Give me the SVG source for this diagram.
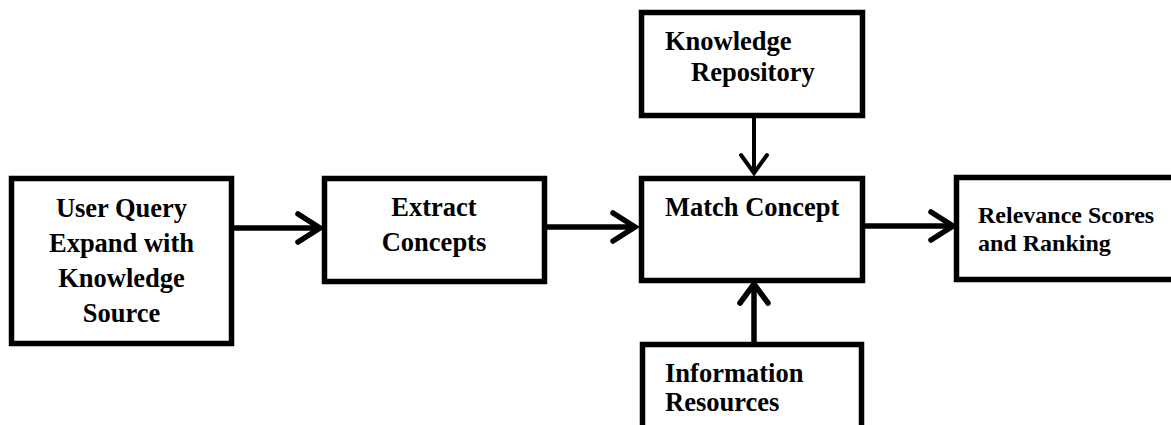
<svg xmlns="http://www.w3.org/2000/svg" width="1171" height="425" viewBox="0 0 1171 425">
<style>
.box{fill:#fff;stroke:#000;stroke-width:5.5}
.t{font-family:"Liberation Serif","Times New Roman",serif;font-weight:bold;font-size:26.5px;fill:#000}
.s{font-size:24px}
.c{text-anchor:middle}
.ln{fill:none;stroke:#000;stroke-width:5.5}
.hd{fill:none;stroke:#000;stroke-width:5.5;stroke-linecap:round;stroke-linejoin:miter}
.thin{stroke-width:4}
</style>
<rect width="1171" height="425" fill="#fff"/>
<g id="connectors">
<line class="ln" x1="234" y1="228" x2="318" y2="228"/>
<polyline class="hd" points="298,214 320,228 298,242"/>
<line class="ln" x1="547" y1="227" x2="633" y2="227"/>
<polyline class="hd" points="613,213 635,227 613,241"/>
<line class="ln" x1="865" y1="226" x2="951" y2="226"/>
<polyline class="hd" points="931,212 953,226 931,240"/>
<line class="ln thin" x1="754" y1="118" x2="754" y2="171"/>
<polyline class="hd thin" points="741,155 754,173 767,155"/>
<line class="ln" x1="754" y1="342" x2="754" y2="286"/>
<polyline class="hd" points="740,303 754,284 768,303"/>
</g>
<g id="user-query">
<rect class="box" x="11.5" y="178.5" width="220" height="165"/>
<text class="t c" x="121.5" y="217">User Query</text>
<text class="t c" x="121.5" y="252">Expand with</text>
<text class="t c" x="121.5" y="287">Knowledge</text>
<text class="t c" x="121.5" y="322">Source</text>
</g>
<g id="extract-concepts">
<rect class="box" x="324.5" y="178.5" width="220" height="103"/>
<text class="t c" x="434" y="216">Extract</text>
<text class="t c" x="434" y="251">Concepts</text>
</g>
<g id="match-concept">
<rect class="box" x="641.5" y="178.5" width="221" height="102"/>
<text class="t" x="665" y="216">Match Concept</text>
</g>
<g id="knowledge-repository">
<rect class="box" x="641.5" y="12.5" width="221" height="103"/>
<text class="t" x="665" y="50">Knowledge</text>
<text class="t" x="691" y="81">Repository</text>
</g>
<g id="information-resources">
<rect class="box" x="642.5" y="344.5" width="219" height="120"/>
<text class="t" x="665" y="382">Information</text>
<text class="t" x="665" y="411">Resources</text>
</g>
<g id="relevance-scores">
<rect class="box" x="956.5" y="177.5" width="240" height="102"/>
<text class="t s" x="978" y="223">Relevance Scores</text>
<text class="t s" x="978" y="251">and Ranking</text>
</g>
</svg>
